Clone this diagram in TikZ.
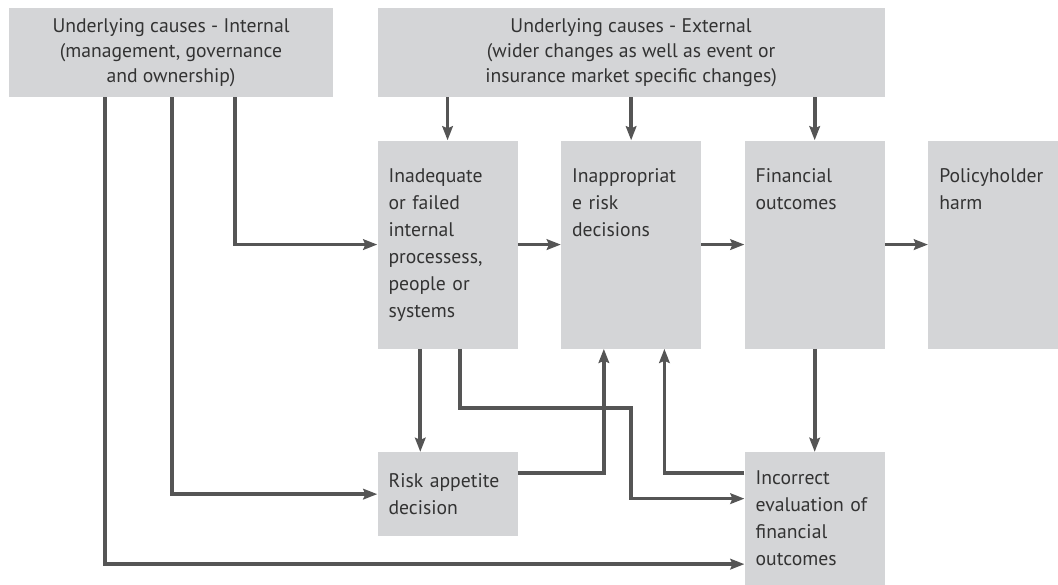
\documentclass[tikz,border=0pt]{standalone}
\usepackage{fontspec}
\setmainfont{PT Sans}
\usepackage{tikz}
\usetikzlibrary{arrows.meta,positioning,calc}
\definecolor{boxgray}{HTML}{D4D5D7}
\definecolor{linegray}{HTML}{555555}
\definecolor{txtgray}{HTML}{333333}

\begin{document}
\begin{tikzpicture}[
    node distance=1.075cm and 1.075cm,
    cause/.style={rectangle, fill=boxgray, minimum height=2.225cm, align=center, text=txtgray, font=\fontsize{14}{17.7}\selectfont},
    stage/.style={rectangle, fill=boxgray, minimum width=3.5cm, text width=2.95cm, inner xsep=0.275cm, align=left, text=txtgray, font=\fontsize{14}{19.2}\selectfont},
    tall/.style={stage, inner ysep=0.6cm, text height=0.45cm, text depth=3.55cm},
    arrow/.style={-{Stealth[length=10pt,width=7.5pt,inset=1.5pt]}, line width=2.6pt, draw=linegray},
]
    \useasboundingbox (0,0) rectangle (26.45,-14.6);

    \node[cause, minimum width=8.1cm] (int) at (4.275,-1.3125) {Underlying causes - Internal\\(management, governance\\and ownership)};
    \node[cause, minimum width=12.675cm, right=1.1cm of int] (ext) {Underlying causes - External\\(wider changes as well as event or\\insurance market specific changes)};

    \node[tall, anchor=north west] (inad) at ([yshift=-1.075cm]ext.south west) {Inadequate\\or failed\\internal\\processess,\\people or\\systems};
    \node[tall, right=of inad] (inap) {Inappropriat\\e risk\\decisions};
    \node[tall, right=of inap] (fin) {Financial\\outcomes};
    \node[tall, right=of fin] (pol) {Policyholder\\harm};

    \node[stage, minimum height=2.1cm, below=2.575cm of inad] (risk) {Risk appetite\\decision};
    \node[stage, minimum height=3.325cm, below=2.575cm of fin] (incor) {Incorrect\\evaluation of\\financial\\outcomes};

    % external causes feed the top row
    \draw[arrow] (ext.south -| inad.north) -- (inad.north);
    \draw[arrow] (ext.south -| inap.north) -- (inap.north);
    \draw[arrow] (ext.south -| fin.north) -- (fin.north);

    % internal causes
    \draw[arrow] ([xshift=5.65cm]int.south west) |- (inad.west);
    \draw[arrow] ([xshift=4.075cm]int.south west) |- (risk.west);
    \draw[arrow] ([xshift=2.4cm]int.south west) |- ([yshift=-1.1375cm]incor.west);

    % main chain
    \draw[arrow] (inad.east) -- (inap.west);
    \draw[arrow] (inap.east) -- (fin.west);
    \draw[arrow] (fin.east) -- (pol.west);

    % lower loops
    \draw[arrow] ([xshift=1.075cm]inad.south west) -- ([xshift=1.075cm]risk.north west);
    \draw[arrow] ([xshift=2.075cm]inad.south west) |- ([yshift=-1.475cm]inap.south) |- ([yshift=0.5cm]incor.west);
    \draw[arrow] ([yshift=0.525cm]risk.east) -| ([xshift=1.075cm]inap.south west);
    \draw[arrow] ([yshift=1.1375cm]incor.west) -| ([xshift=-0.925cm]inap.south east);
    \draw[arrow] (fin.south) -- (incor.north);
\end{tikzpicture}
\end{document}
